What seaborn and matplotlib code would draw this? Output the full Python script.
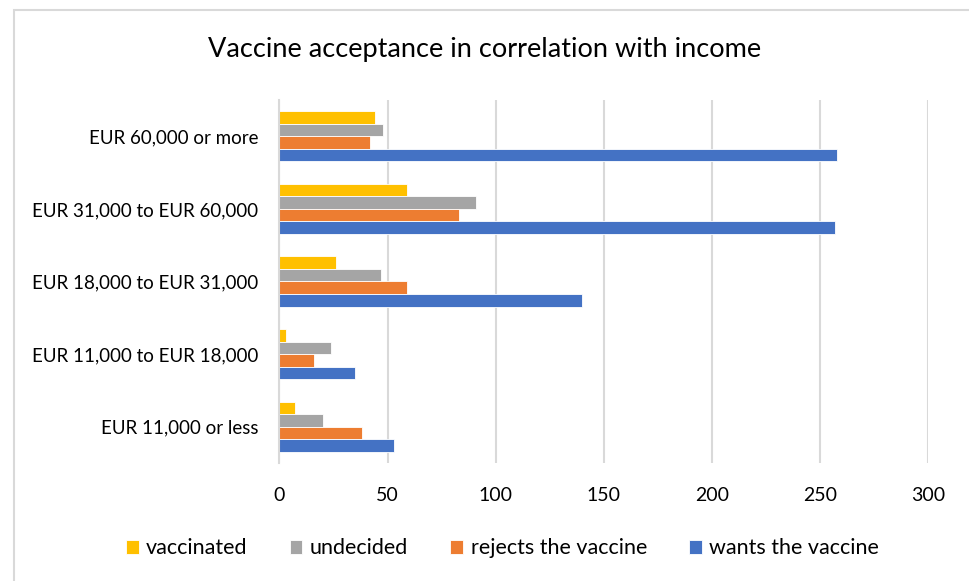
import matplotlib
matplotlib.use("Agg")
import matplotlib.pyplot as plt
from matplotlib.patches import Rectangle
import seaborn as sns
import pandas as pd

# Income brackets, listed top to bottom as drawn
incomes = [
    "EUR 60,000 or more",
    "EUR 31,000 to EUR 60,000",
    "EUR 18,000 to EUR 31,000",
    "EUR 11,000 to EUR 18,000",
    "EUR 11,000 or less",
]
series = ["vaccinated", "undecided", "rejects the vaccine", "wants the vaccine"]

vaccinated = [44, 59, 26, 3, 7]
undecided = [48, 91, 47, 24, 20]
rejects = [42, 83, 59, 16, 38]
wants = [258, 257, 140, 35, 53]

x_ticks = [0, 50, 100, 150, 200, 250, 300]
colors = ["#FFC000", "#A5A5A5", "#ED7D31", "#4472C4"]

rows = []
for name, vals in zip(series, [vaccinated, undecided, rejects, wants]):
    for inc, v in zip(incomes, vals):
        rows.append({"income": inc, "group": name, "count": v})
df = pd.DataFrame(rows)

sns.set_theme(style="white")
plt.rcParams["font.family"] = ["Lato", "DejaVu Sans"]
plt.rcParams["text.color"] = "#000000"
plt.rcParams["xtick.color"] = "#000000"
plt.rcParams["ytick.color"] = "#000000"

fig = plt.figure(figsize=(9.7, 5.81), dpi=100)
ax = fig.add_axes([0.2881, 0.2031, 0.6686, 0.6248])

sns.barplot(
    data=df, y="income", x="count", hue="group",
    order=incomes, hue_order=series, palette=colors,
    orient="h", width=0.69, ax=ax, saturation=1,
    edgecolor="white", linewidth=0.6,
)

ax.set_xlim(0, 300)
ax.set_xticks(x_ticks)
ax.set_xticklabels([str(t) for t in x_ticks], fontsize=14)
ax.set_ylim(4.5, -0.5)
ax.tick_params(axis="y", labelsize=13.5, length=0, pad=15)
ax.tick_params(axis="x", length=0, pad=17)
ax.set_xlabel("")
ax.set_ylabel("")
ax.grid(axis="x", color="#D9D9D9", linewidth=1.5)
ax.set_axisbelow(True)
for side in ["top", "right", "bottom"]:
    ax.spines[side].set_visible(False)
ax.spines["left"].set_color("#D9D9D9")
ax.spines["left"].set_linewidth(1.5)

fig.text(0.5, 0.914, "Vaccine acceptance in correlation with income",
         ha="center", va="center", fontsize=19.5)

handles, labels = ax.get_legend_handles_labels()
ax.legend_.remove()
fig.legend(handles, labels, loc="center", bbox_to_anchor=(0.518, 0.056),
           ncol=4, frameon=False, fontsize=15.5, handlelength=0.6,
           handleheight=0.6, handletextpad=0.35, columnspacing=1.95)

# chart frame
fig.patches.append(Rectangle((14 / 970, -0.05), 1.2, 1 - 10.5 / 581 + 0.05,
                             transform=fig.transFigure, fill=False,
                             edgecolor="#D9D9D9", linewidth=1.5))

fig.savefig("out.png", dpi=100, facecolor="white")
